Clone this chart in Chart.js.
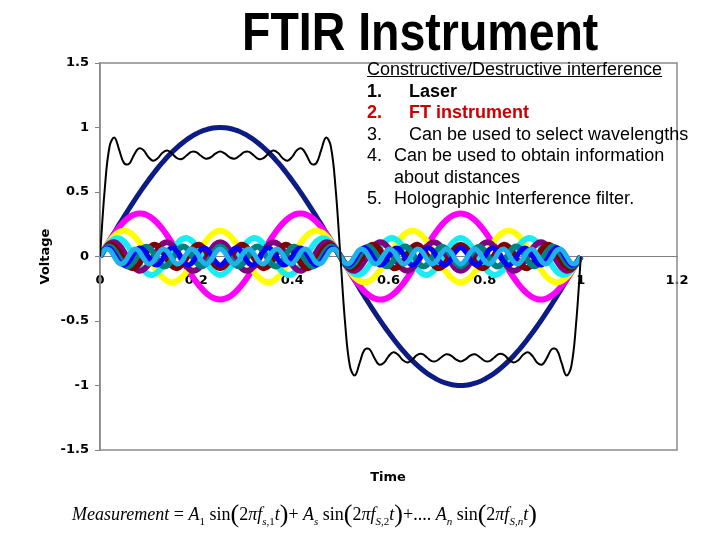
<!DOCTYPE html>
<html>
<head>
<meta charset="utf-8">
<script src="https://cdn.jsdelivr.net/npm/chart.js@4.4.1/dist/chart.umd.min.js"></script>
<style>
body { margin: 0; background: #fff; }
#wrap { position: relative; width: 720px; height: 540px; overflow: hidden; }
#chartCanvas { position: absolute; left: 0; top: 0; }
#title { position: absolute; left: 242px; top: 5px; font: bold 53px "Liberation Sans", Arial, sans-serif; line-height: 1; transform: scaleX(0.877); transform-origin: left top; white-space: nowrap; }
#notes { position: absolute; left: 367px; top: 59px; font: 18px "Liberation Sans", Arial, sans-serif; line-height: 21.5px; white-space: nowrap; }
#notes .u { text-decoration: underline; }
#notes .b { font-weight: bold; }
#notes .red { color: #cc0000; }
#notes .n1 { display: inline-block; width: 42px; }
#notes .n2 { display: inline-block; width: 27px; }
#xtitle { position: absolute; left: 350px; top: 469px; width: 76px; text-align: center; font: bold 13px "DejaVu Sans", sans-serif; }
#formula { position: absolute; left: 72px; top: 502px; font: 18px "Liberation Serif", "Times New Roman", serif; line-height: 24px; white-space: nowrap; }
#formula sub { font-size: 11px; }
#formula .bp { font-size: 26px; vertical-align: -2px; }
</style>
</head>
<body>
<div id="wrap">
<canvas id="chartCanvas" width="720" height="540"></canvas>
<div id="title">FTIR Instrument</div>
<div id="notes">
<div class="u">Constructive/Destructive interference</div>
<div class="b"><span class="n1">1.</span>Laser</div>
<div class="b red"><span class="n1">2.</span>FT instrument</div>
<div><span class="n1">3.</span>Can be used to select wavelengths</div>
<div><span class="n2">4.</span>Can be used to obtain information</div>
<div><span class="n2"></span>about distances</div>
<div><span class="n2">5.</span>Holographic Interference filter.</div>
</div>
<div id="xtitle">Time</div>
<div id="formula"><i>Measurement</i> = <i>A</i><sub>1</sub> sin<span class="bp">(</span>2<i>πf</i><sub><i>s</i>,1</sub><i>t</i><span class="bp">)</span>+ <i>A<sub>s</sub></i> sin<span class="bp">(</span>2<i>πf</i><sub><i>S</i>,2</sub><i>t</i><span class="bp">)</span>+.... <i>A<sub>n</sub></i> sin<span class="bp">(</span>2<i>πf</i><sub><i>S</i>,<i>n</i></sub><i>t</i><span class="bp">)</span></div>
</div>
<script>
// time axis (s) and tick labels
var time = [0,0.01,0.02,0.03,0.04,0.05,0.06,0.07,0.08,0.09,0.1,0.11,0.12,0.13,0.14,0.15,0.16,0.17,0.18,0.19,0.2,0.21,0.22,0.23,0.24,0.25,
0.26,0.27,0.28,0.29,0.3,0.31,0.32,0.33,0.34,0.35,0.36,0.37,0.38,0.39,0.4,0.41,0.42,0.43,0.44,0.45,0.46,0.47,0.48,0.49,0.5,
0.51,0.52,0.53,0.54,0.55,0.56,0.57,0.58,0.59,0.6,0.61,0.62,0.63,0.64,0.65,0.66,0.67,0.68,0.69,0.7,0.71,0.72,0.73,0.74,0.75,
0.76,0.77,0.78,0.79,0.8,0.81,0.82,0.83,0.84,0.85,0.86,0.87,0.88,0.89,0.9,0.91,0.92,0.93,0.94,0.95,0.96,0.97,0.98,0.99,1];
var xTicks = [0, 0.2, 0.4, 0.6, 0.8, 1, 1.2];
var yTicks = [-1.5, -1, -0.5, 0, 0.5, 1, 1.5];

// component waves (voltage)
var h1 = [0,0.063,0.125,0.187,0.249,0.309,0.368,0.426,0.482,0.536,0.588,0.637,0.685,0.729,0.771,0.809,0.844,0.876,0.905,0.930,0.951,0.969,0.982,0.992,0.998,1,
0.998,0.992,0.982,0.969,0.951,0.930,0.905,0.876,0.844,0.809,0.771,0.729,0.685,0.637,0.588,0.536,0.482,0.426,0.368,0.309,0.249,0.187,0.125,0.063,0,
-0.063,-0.125,-0.187,-0.249,-0.309,-0.368,-0.426,-0.482,-0.536,-0.588,-0.637,-0.685,-0.729,-0.771,-0.809,-0.844,-0.876,-0.905,-0.930,-0.951,-0.969,-0.982,-0.992,-0.998,-1,
-0.998,-0.992,-0.982,-0.969,-0.951,-0.930,-0.905,-0.876,-0.844,-0.809,-0.771,-0.729,-0.685,-0.637,-0.588,-0.536,-0.482,-0.426,-0.368,-0.309,-0.249,-0.187,-0.125,-0.063,0];
var h3 = [0,0.063,0.123,0.179,0.228,0.270,0.302,0.323,0.333,0.331,0.317,0.292,0.257,0.213,0.161,0.103,0.042,-0.021,-0.083,-0.142,-0.196,-0.243,-0.281,-0.310,-0.327,-0.333,
-0.327,-0.310,-0.281,-0.243,-0.196,-0.142,-0.083,-0.021,0.042,0.103,0.161,0.213,0.257,0.292,0.317,0.331,0.333,0.323,0.302,0.270,0.228,0.179,0.123,0.063,0,
-0.063,-0.123,-0.179,-0.228,-0.270,-0.302,-0.323,-0.333,-0.331,-0.317,-0.292,-0.257,-0.213,-0.161,-0.103,-0.042,0.021,0.083,0.142,0.196,0.243,0.281,0.310,0.327,0.333,
0.327,0.310,0.281,0.243,0.196,0.142,0.083,0.021,-0.042,-0.103,-0.161,-0.213,-0.257,-0.292,-0.317,-0.331,-0.333,-0.323,-0.302,-0.270,-0.228,-0.179,-0.123,-0.063,0];
var h5 = [0,0.062,0.118,0.162,0.190,0.200,0.190,0.162,0.118,0.062,0,-0.062,-0.118,-0.162,-0.190,-0.200,-0.190,-0.162,-0.118,-0.062,0,0.062,0.118,0.162,0.190,0.200,
0.190,0.162,0.118,0.062,0,-0.062,-0.118,-0.162,-0.190,-0.200,-0.190,-0.162,-0.118,-0.062,0,0.062,0.118,0.162,0.190,0.200,0.190,0.162,0.118,0.062,0,
-0.062,-0.118,-0.162,-0.190,-0.200,-0.190,-0.162,-0.118,-0.062,0,0.062,0.118,0.162,0.190,0.200,0.190,0.162,0.118,0.062,0,-0.062,-0.118,-0.162,-0.190,-0.200,
-0.190,-0.162,-0.118,-0.062,0,0.062,0.118,0.162,0.190,0.200,0.190,0.162,0.118,0.062,0,-0.062,-0.118,-0.162,-0.190,-0.200,-0.190,-0.162,-0.118,-0.062,0];
var h7 = [0,0.061,0.110,0.138,0.140,0.116,0.069,0.009,-0.053,-0.104,-0.136,-0.142,-0.121,-0.077,-0.018,0.044,0.098,0.133,0.143,0.125,0.084,0.027,-0.036,-0.091,-0.129,-0.143,
-0.129,-0.091,-0.036,0.027,0.084,0.125,0.143,0.133,0.098,0.044,-0.018,-0.077,-0.121,-0.142,-0.136,-0.104,-0.053,0.009,0.069,0.116,0.140,0.138,0.110,0.061,0,
-0.061,-0.110,-0.138,-0.140,-0.116,-0.069,-0.009,0.053,0.104,0.136,0.142,0.121,0.077,0.018,-0.044,-0.098,-0.133,-0.143,-0.125,-0.084,-0.027,0.036,0.091,0.129,0.143,
0.129,0.091,0.036,-0.027,-0.084,-0.125,-0.143,-0.133,-0.098,-0.044,0.018,0.077,0.121,0.142,0.136,0.104,0.053,-0.009,-0.069,-0.116,-0.140,-0.138,-0.110,-0.061,0];
var h9 = [0,0.060,0.101,0.110,0.086,0.034,-0.028,-0.081,-0.109,-0.103,-0.065,-0.007,0.054,0.097,0.111,0.090,0.041,-0.021,-0.076,-0.108,-0.106,-0.071,-0.014,0.047,0.094,0.111,
0.094,0.047,-0.014,-0.071,-0.106,-0.108,-0.076,-0.021,0.041,0.090,0.111,0.097,0.054,-0.007,-0.065,-0.103,-0.109,-0.081,-0.028,0.034,0.086,0.110,0.101,0.060,0,
-0.060,-0.101,-0.110,-0.086,-0.034,0.028,0.081,0.109,0.103,0.065,0.007,-0.054,-0.097,-0.111,-0.090,-0.041,0.021,0.076,0.108,0.106,0.071,0.014,-0.047,-0.094,-0.111,
-0.094,-0.047,0.014,0.071,0.106,0.108,0.076,0.021,-0.041,-0.090,-0.111,-0.097,-0.054,0.007,0.065,0.103,0.109,0.081,0.028,-0.034,-0.086,-0.110,-0.101,-0.060,0];
var h11 = [0,0.058,0.089,0.080,0.033,-0.028,-0.077,-0.090,-0.062,-0.006,0.053,0.088,0.082,0.039,-0.023,-0.074,-0.091,-0.066,-0.011,0.049,0.086,0.085,0.044,-0.017,-0.070,-0.091,
-0.070,-0.017,0.044,0.085,0.086,0.049,-0.011,-0.066,-0.091,-0.074,-0.023,0.039,0.082,0.088,0.053,-0.006,-0.062,-0.090,-0.077,-0.028,0.033,0.080,0.089,0.058,0,
-0.058,-0.089,-0.080,-0.033,0.028,0.077,0.090,0.062,0.006,-0.053,-0.088,-0.082,-0.039,0.023,0.074,0.091,0.066,0.011,-0.049,-0.086,-0.085,-0.044,0.017,0.070,0.091,
0.070,0.017,-0.044,-0.085,-0.086,-0.049,0.011,0.066,0.091,0.074,0.023,-0.039,-0.082,-0.088,-0.053,0.006,0.062,0.090,0.077,0.028,-0.033,-0.080,-0.089,-0.058,0];
var h13 = [0,0.056,0.077,0.049,-0.010,-0.062,-0.076,-0.041,0.019,0.067,0.073,0.033,-0.028,-0.072,-0.070,-0.024,0.037,0.075,0.065,0.014,-0.045,-0.076,-0.059,-0.005,0.053,0.077,
0.053,-0.005,-0.059,-0.076,-0.045,0.014,0.065,0.075,0.037,-0.024,-0.070,-0.072,-0.028,0.033,0.073,0.067,0.019,-0.041,-0.076,-0.062,-0.010,0.049,0.077,0.056,0,
-0.056,-0.077,-0.049,0.010,0.062,0.076,0.041,-0.019,-0.067,-0.073,-0.033,0.028,0.072,0.070,0.024,-0.037,-0.075,-0.065,-0.014,0.045,0.076,0.059,0.005,-0.053,-0.077,
-0.053,0.005,0.059,0.076,0.045,-0.014,-0.065,-0.075,-0.037,0.024,0.070,0.072,0.028,-0.033,-0.073,-0.067,-0.019,0.041,0.076,0.062,0.010,-0.049,-0.077,-0.056,0];
var h15 = [0,0.054,0.063,0.021,-0.039,-0.067,-0.039,0.021,0.063,0.054,0,-0.054,-0.063,-0.021,0.039,0.067,0.039,-0.021,-0.063,-0.054,0,0.054,0.063,0.021,-0.039,-0.067,
-0.039,0.021,0.063,0.054,0,-0.054,-0.063,-0.021,0.039,0.067,0.039,-0.021,-0.063,-0.054,0,0.054,0.063,0.021,-0.039,-0.067,-0.039,0.021,0.063,0.054,0,
-0.054,-0.063,-0.021,0.039,0.067,0.039,-0.021,-0.063,-0.054,0,0.054,0.063,0.021,-0.039,-0.067,-0.039,0.021,0.063,0.054,0,-0.054,-0.063,-0.021,0.039,0.067,
0.039,-0.021,-0.063,-0.054,0,0.054,0.063,0.021,-0.039,-0.067,-0.039,0.021,0.063,0.054,0,-0.054,-0.063,-0.021,0.039,0.067,0.039,-0.021,-0.063,-0.054,0];
var h17 = [0,0.052,0.050,-0.004,-0.053,-0.048,0.007,0.055,0.045,-0.011,-0.056,-0.043,0.015,0.057,0.040,-0.018,-0.058,-0.038,0.022,0.058,0.035,-0.025,-0.059,-0.032,0.028,0.059,
0.028,-0.032,-0.059,-0.025,0.035,0.058,0.022,-0.038,-0.058,-0.018,0.040,0.057,0.015,-0.043,-0.056,-0.011,0.045,0.055,0.007,-0.048,-0.053,-0.004,0.050,0.052,0,
-0.052,-0.050,0.004,0.053,0.048,-0.007,-0.055,-0.045,0.011,0.056,0.043,-0.015,-0.057,-0.040,0.018,0.058,0.038,-0.022,-0.058,-0.035,0.025,0.059,0.032,-0.028,-0.059,
-0.028,0.032,0.059,0.025,-0.035,-0.058,-0.022,0.038,0.058,0.018,-0.040,-0.057,-0.015,0.043,0.056,0.011,-0.045,-0.055,-0.007,0.048,0.053,0.004,-0.050,-0.052,0];

// measured signal (sum of the components)
var measured = [0,0.527,0.855,0.922,0.825,0.724,0.717,0.782,0.836,0.826,0.774,0.743,0.762,0.804,0.821,0.797,0.762,0.756,0.783,0.811,0.809,0.781,0.758,0.768,0.797,0.813,
0.797,0.768,0.758,0.781,0.809,0.811,0.783,0.756,0.762,0.797,0.821,0.804,0.762,0.743,0.774,0.826,0.836,0.782,0.717,0.724,0.825,0.922,0.855,0.527,0,
-0.527,-0.855,-0.922,-0.825,-0.724,-0.717,-0.782,-0.836,-0.826,-0.774,-0.743,-0.762,-0.804,-0.821,-0.797,-0.762,-0.756,-0.783,-0.811,-0.809,-0.781,-0.758,-0.768,-0.797,-0.813,
-0.797,-0.768,-0.758,-0.781,-0.809,-0.811,-0.783,-0.756,-0.762,-0.797,-0.821,-0.804,-0.762,-0.743,-0.774,-0.826,-0.836,-0.782,-0.717,-0.724,-0.825,-0.922,-0.855,-0.527,0];

function toPoints(values) {
    return values.map(function (v, i) { return { x: time[i], y: v }; });
}

function line(values, color, width) {
    return {
        data: toPoints(values),
        borderColor: color,
        borderWidth: width,
        pointRadius: 0,
        tension: 0.4,
        fill: false
    };
}

// plot area frame like the spreadsheet chart
var frame = {
    id: 'frame',
    beforeDatasetsDraw: function (chart) {
        var a = chart.chartArea;
        var ctx = chart.ctx;
        ctx.save();
        ctx.strokeStyle = '#8a8a8a';
        ctx.lineWidth = 1.5;
        ctx.strokeRect(a.left, a.top, a.right - a.left, a.bottom - a.top);
        ctx.restore();
    }
};

var tickFont = { family: 'DejaVu Sans', size: 13, weight: 'bold' };

function plainLabel(value) {
    return String(value);
}

var ctx = document.getElementById('chartCanvas').getContext('2d');
var myChart = new Chart(ctx, {
    type: 'line',
    data: {
        // first dataset is drawn on top
        datasets: [
            line(measured, '#000000', 2),
            line(h17, '#1fb2ea', 5),
            line(h15, '#0000ff', 5),
            line(h13, '#008080', 6),
            line(h11, '#800000', 6),
            line(h9, '#800080', 6),
            line(h7, '#19ecf2', 6),
            line(h5, '#ffff00', 6),
            line(h3, '#ff00ff', 6),
            line(h1, '#0d1b84', 5)
        ]
    },
    options: {
        responsive: false,
        animation: false,
        layout: { padding: { left: 0, top: 63, right: 43, bottom: 90 } },
        plugins: { legend: { display: false }, tooltip: { enabled: false } },
        scales: {
            x: {
                type: 'linear',
                position: { y: 0 },
                min: 0,
                max: 1.2,
                afterBuildTicks: function (scale) {
                    scale.ticks = xTicks.map(function (v) { return { value: v }; });
                },
                grid: { display: false, drawTicks: false },
                border: { display: true, color: '#808080', width: 1 },
                ticks: { color: '#000', font: tickFont, padding: 16, maxRotation: 0, callback: plainLabel }
            },
            y: {
                type: 'linear',
                min: -1.5,
                max: 1.5,
                afterBuildTicks: function (scale) {
                    scale.ticks = yTicks.map(function (v) { return { value: v }; });
                },
                afterFit: function (scale) { scale.width = 100; },
                grid: { drawOnChartArea: false, drawTicks: true, tickLength: 5, color: '#808080' },
                border: { display: true, color: '#808080', width: 1.5 },
                ticks: { color: '#000', font: tickFont, padding: 6, callback: plainLabel },
                title: {
                    display: true,
                    text: 'Voltage',
                    color: '#000',
                    font: { family: 'DejaVu Sans', size: 13, weight: 'bold' },
                    padding: { top: 38, bottom: 0 }
                }
            }
        }
    },
    plugins: [frame]
});
</script>
</body>
</html>
